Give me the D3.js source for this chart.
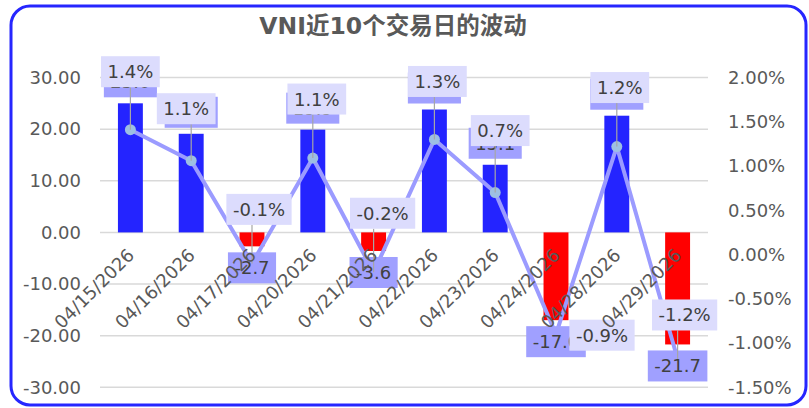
<!DOCTYPE html>
<html>
<head>
<meta charset="utf-8">
<script src="https://cdn.jsdelivr.net/npm/d3@7"></script>
<style>
  html, body { margin: 0; padding: 0; background: #fff; }
  svg { display: block; }
  text { font-family: "DejaVu Sans", "Noto Sans CJK SC", sans-serif; }
</style>
</head>
<body>
<svg id="chart" width="809" height="408"></svg>
<script>
// ---- data ----
const title = "VNI近10个交易日的波动";
const dates = ["04/15/2026","04/16/2026","04/17/2026","04/20/2026","04/21/2026",
               "04/22/2026","04/23/2026","04/24/2026","04/28/2026","04/29/2026"];
const changes = [25.0, 19.1, -2.7, 19.9, -3.6, 23.8, 13.1, -17.0, 22.6, -21.7];
const pct = [1.41, 1.06, -0.10, 1.09, -0.20, 1.30, 0.70, -0.90, 1.22, -1.18];
const leftTicks = [-30, -20, -10, 0, 10, 20, 30];
const rightTicks = [-1.5, -1.0, -0.5, 0, 0.5, 1.0, 1.5, 2.0];
// label nudges (layout only): offset of % label centre from its point
const pctNudge = [[0,-58],[-5,-52],[7,-54],[4,-59],[9,-59],[3,-58],[5,-62],[46,1],[3,-59],[7,-44]];

// ---- layout ----
const svg = d3.select("#chart");
const plot = {left: 100, right: 708, top: 77.5, bottom: 387.3};
const x = d3.scaleBand().domain(dates).range([plot.left, plot.right]).padding(0);
const yL = d3.scaleLinear().domain([-30, 30]).range([plot.bottom, plot.top]);
const yR = d3.scaleLinear().domain([-1.5, 2.0]).range([plot.bottom, plot.top]);
const textColor = "#404040", tickColor = "#595959";
const fs = 18;
const fmt = (v, n) => v.toFixed(n); // plain hyphen-minus like the reference

// frame
svg.append("rect").attr("x", 11).attr("y", 6).attr("width", 795).attr("height", 399)
  .attr("rx", 19).attr("ry", 19).attr("fill", "#fff").attr("stroke", "#2626ff").attr("stroke-width", 3);

// title
svg.append("text").attr("x", 393).attr("y", 34).attr("text-anchor", "middle")
  .attr("font-size", 23.5).attr("font-weight", "bold").attr("fill", "#595959").text(title);

// gridlines
svg.append("g").selectAll("line").data(leftTicks).join("line")
  .attr("x1", plot.left).attr("x2", plot.right)
  .attr("y1", d => yL(d)).attr("y2", d => yL(d))
  .attr("stroke", "#d9d9d9").attr("stroke-width", 1.5);

// left axis
const axL = svg.append("g").attr("transform", `translate(${plot.left},0)`)
  .call(d3.axisLeft(yL).tickValues(leftTicks).tickFormat(d => fmt(d, 2)).tickSize(0).tickPadding(19));
axL.select(".domain").remove();
axL.selectAll("text").attr("font-size", fs).attr("fill", tickColor)
  .attr("font-family", "DejaVu Sans");

// right axis
const axR = svg.append("g").attr("transform", `translate(${plot.right},0)`)
  .call(d3.axisRight(yR).tickValues(rightTicks).tickFormat(d => fmt(d, 2) + "%").tickSize(0).tickPadding(20));
axR.select(".domain").remove();
axR.selectAll("text").attr("font-size", fs).attr("fill", tickColor)
  .attr("font-family", "DejaVu Sans");

// bars
const bw = x.bandwidth() * 0.41;
const cx = d => x(d) + x.bandwidth() / 2;
svg.append("g").selectAll("rect").data(dates).join("rect")
  .attr("x", (d) => cx(d) - bw / 2)
  .attr("y", (d, i) => Math.min(yL(changes[i]), yL(0)))
  .attr("width", bw)
  .attr("height", (d, i) => Math.abs(yL(changes[i]) - yL(0)))
  .attr("fill", (d, i) => changes[i] >= 0 ? "#2424ff" : "#ff0000");

// line
const line = d3.line().x((d, i) => cx(dates[i])).y(d => yR(d));
svg.append("path").datum(pct).attr("d", line)
  .attr("fill", "none").attr("stroke", "#9b9bff").attr("stroke-width", 4).attr("stroke-linejoin", "round");
svg.append("g").selectAll("circle").data(pct).join("circle")
  .attr("cx", (d, i) => cx(dates[i])).attr("cy", d => yR(d)).attr("r", 5.5)
  .attr("fill", "#9dbfe3");

// helper to make a boxed label
function boxLabel(g, text, fill) {
  const grp = g.append("g");
  const t = grp.append("text").attr("font-size", fs).attr("fill", textColor)
    .attr("text-anchor", "middle").attr("dy", "0.36em").text(text);
  const w = t.node().getComputedTextLength() + 13;
  const h = 31;
  grp.insert("rect", "text").attr("x", -w / 2).attr("y", -h / 2).attr("width", w).attr("height", h).attr("fill", fill);
  return {grp, w, h};
}

// bar labels
const gBarLab = svg.append("g");
dates.forEach((d, i) => {
  const v = changes[i];
  const lab = boxLabel(gBarLab, fmt(v, 1), "#a0a0ff");
  const yEnd = yL(v);
  const cy = v >= 0 ? yEnd - 6 - lab.h / 2 : yEnd + 6 + lab.h / 2;
  lab.grp.attr("transform", `translate(${cx(d)},${cy})`);
});

// percent labels with leader lines
const gLead = svg.append("g");
const gPct = svg.append("g");
pct.forEach((v, i) => {
  const px = cx(dates[i]), py = yR(v);
  const lx = px + pctNudge[i][0], ly = py + pctNudge[i][1];
  const lab = boxLabel(gPct, fmt(v, 1) + "%", "#dcdcfd");
  lab.grp.attr("transform", `translate(${lx},${ly})`);
  const nx = Math.max(lx - lab.w / 2, Math.min(px, lx + lab.w / 2));
  const ny = Math.max(ly - lab.h / 2, Math.min(py, ly + lab.h / 2));
  if (Math.hypot(nx - px, ny - py) > 15) {
    gLead.append("line").attr("x1", px).attr("y1", py).attr("x2", nx).attr("y2", ny)
      .attr("stroke", "#a6a6a6").attr("stroke-width", 1.2);
  }
});

// x-axis labels (rotated)
svg.append("g").selectAll("text").data(dates).join("text")
  .attr("transform", d => `translate(${cx(d) + 5},${yL(0) + 24}) rotate(-45)`)
  .attr("text-anchor", "end").attr("font-size", fs).attr("fill", tickColor)
  .text(d => d);
</script>
</body>
</html>
